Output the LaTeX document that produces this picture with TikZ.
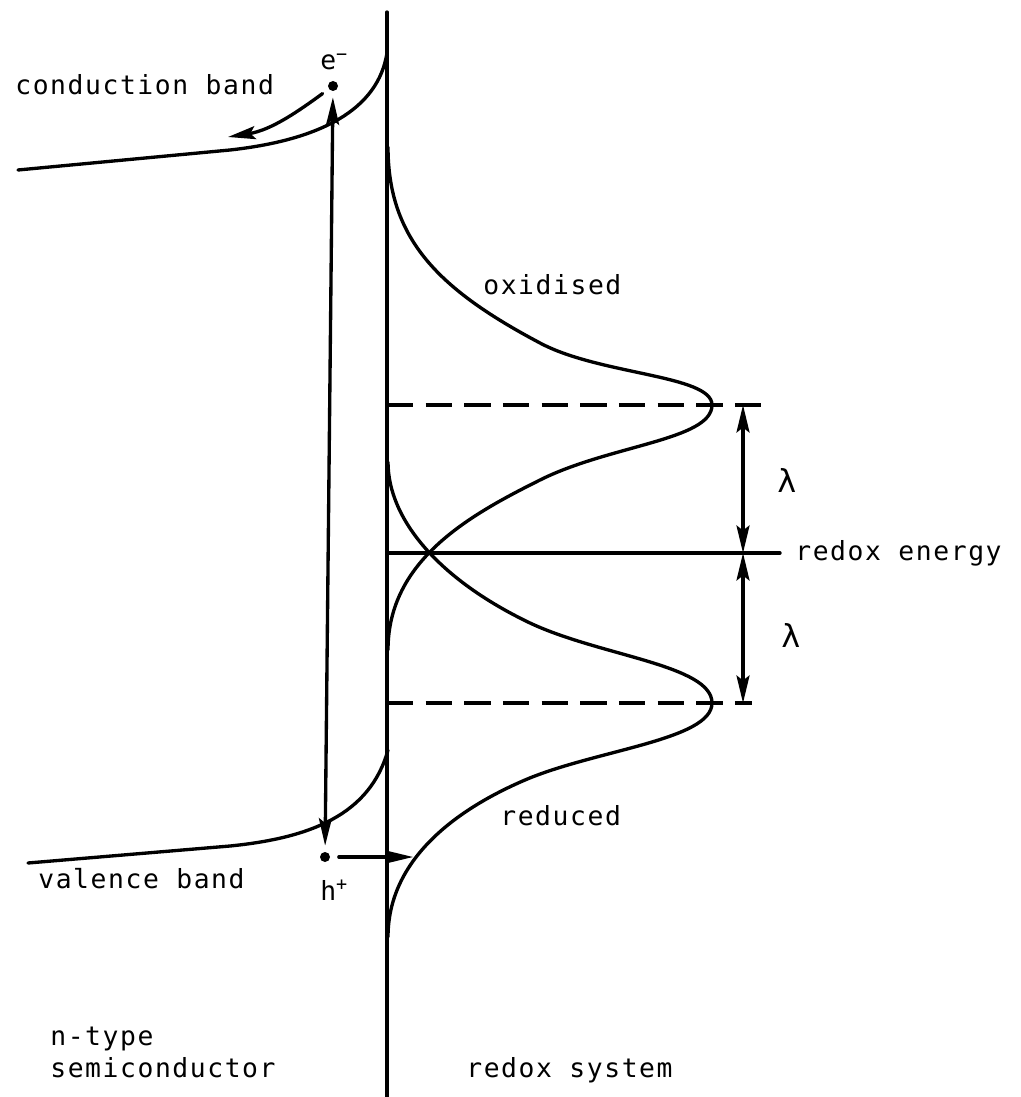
\documentclass[tikz,border=0pt]{standalone}
\usepackage{fontspec}
\newfontfamily\lettering[LetterSpace=6]{DejaVu Sans Mono}
\usetikzlibrary{arrows.meta,positioning}
\tikzset{
  ln/.style   = {line width=1.9pt, line cap=round},
  lbl/.style  = {font=\lettering\fontsize{15}{17}\selectfont, inner sep=0pt},
  ar/.style   = {ln, -{Stealth[length=5.5mm,width=2.6mm,inset=1mm]}},
  arr/.style  = {ln, {Stealth[length=5.5mm,width=2.6mm,inset=1mm]}-{Stealth[length=5.5mm,width=2.6mm,inset=1mm]}},
  dsh/.style  = {line width=1.9pt, dash pattern=on 15pt off 7pt},
  dot/.style  = {circle, fill, inner sep=0pt, minimum size=2mm},
}

\begin{document}
\begin{tikzpicture}[x=0.02cm, y=-0.02cm]
  \useasboundingbox (0,0) rectangle (1020,1097);
  % interface
  \coordinate (axtop) at (387,12);
  \coordinate (axbot) at (387,1097);
  \draw[ln] (axtop) -- (axbot);
  % band edges
  \draw[ln] (18,170) -- (230,150) .. controls (320,140) and (378,110) .. (387,53);
  \draw[ln] (28,863) -- (230,846) .. controls (310,838) and (370,815) .. (388,750);
  % oxidised distribution
  \draw[ln] (388,147) .. controls (388,240) and (440,290) .. (540,343)
                      .. controls (600,375) and (712,375) .. (712,405)
                      .. controls (712,440) and (610,445) .. (540,480)
                      .. controls (470,515) and (388,560) .. (388,650);
  % reduced distribution
  \draw[ln] (388,462) .. controls (388,520) and (440,580) .. (530,623)
                      .. controls (600,656) and (712,665) .. (712,703)
                      .. controls (712,740) and (595,750) .. (525,780)
                      .. controls (455,810) and (388,860) .. (388,937);
  % levels
  \coordinate (oxl) at (387,405);
  \coordinate (oxr) at (770,405);
  \coordinate (rdl) at (387,703);
  \coordinate (rdr) at (752,703);
  \draw[dsh] (oxl) -- (oxr);
  \draw[dsh] (rdl) -- (rdr);
  \node[lbl, anchor=base west] (redox) at (795,560) {redox energy};
  \coordinate (rxl) at (387,553);
  \draw[ln] (rxl) -- (rxl -| redox.west) [shorten >=3mm];
  % reorganisation energy
  \coordinate (lamtop) at (743,405);
  \coordinate (lammid) at (743,553);
  \coordinate (lambot) at (743,703);
  \draw[arr] (lamtop) -- (lammid);
  \draw[arr] (lammid) -- (lambot);
  \node[lbl, font=\lettering\fontsize{18}{20}\selectfont] (lamA) at (787,480) {λ};
  \node[lbl, font=\lettering\fontsize{18}{20}\selectfont] (lamB) at (791,635) {λ};
  % carriers
  \node[dot] (edot) at (333,86) {};
  \node[dot] (hdot) at (325,857) {};
  \node[lbl, anchor=base west] (elab) at (320,70) {e\textsuperscript{−}};
  \node[lbl, anchor=base west] (hlab) at (320,900) {h\textsuperscript{+}};
  \draw[arr, shorten <=1.2mm, shorten >=1.2mm] (edot) -- (hdot);
  \coordinate (cbtip) at (228,137);
  \draw[ar, shorten <=1.5mm] (edot) .. controls (300,110) and (272,130) .. (cbtip);
  \coordinate (htip) at (413,857);
  \draw[ar, shorten <=1.7mm] (hdot) -- (htip);
  % labels
  \node[lbl, anchor=base west] (cb) at (15,95) {conduction band};
  \node[lbl, anchor=base west] (vb) at (38,888) {valence band};
  \node[lbl, anchor=base west] (ox) at (483,295) {oxidised};
  \node[lbl, anchor=base west] (rd) at (500,825) {reduced};
  \node[lbl, anchor=base west] (semi) at (50,1077) {semiconductor};
  \node[lbl, anchor=base west] (ntype) at (50,1045) {n-type};
  \node[lbl, anchor=base west] (rsys) at (466,1077) {redox system};
\end{tikzpicture}
\end{document}
